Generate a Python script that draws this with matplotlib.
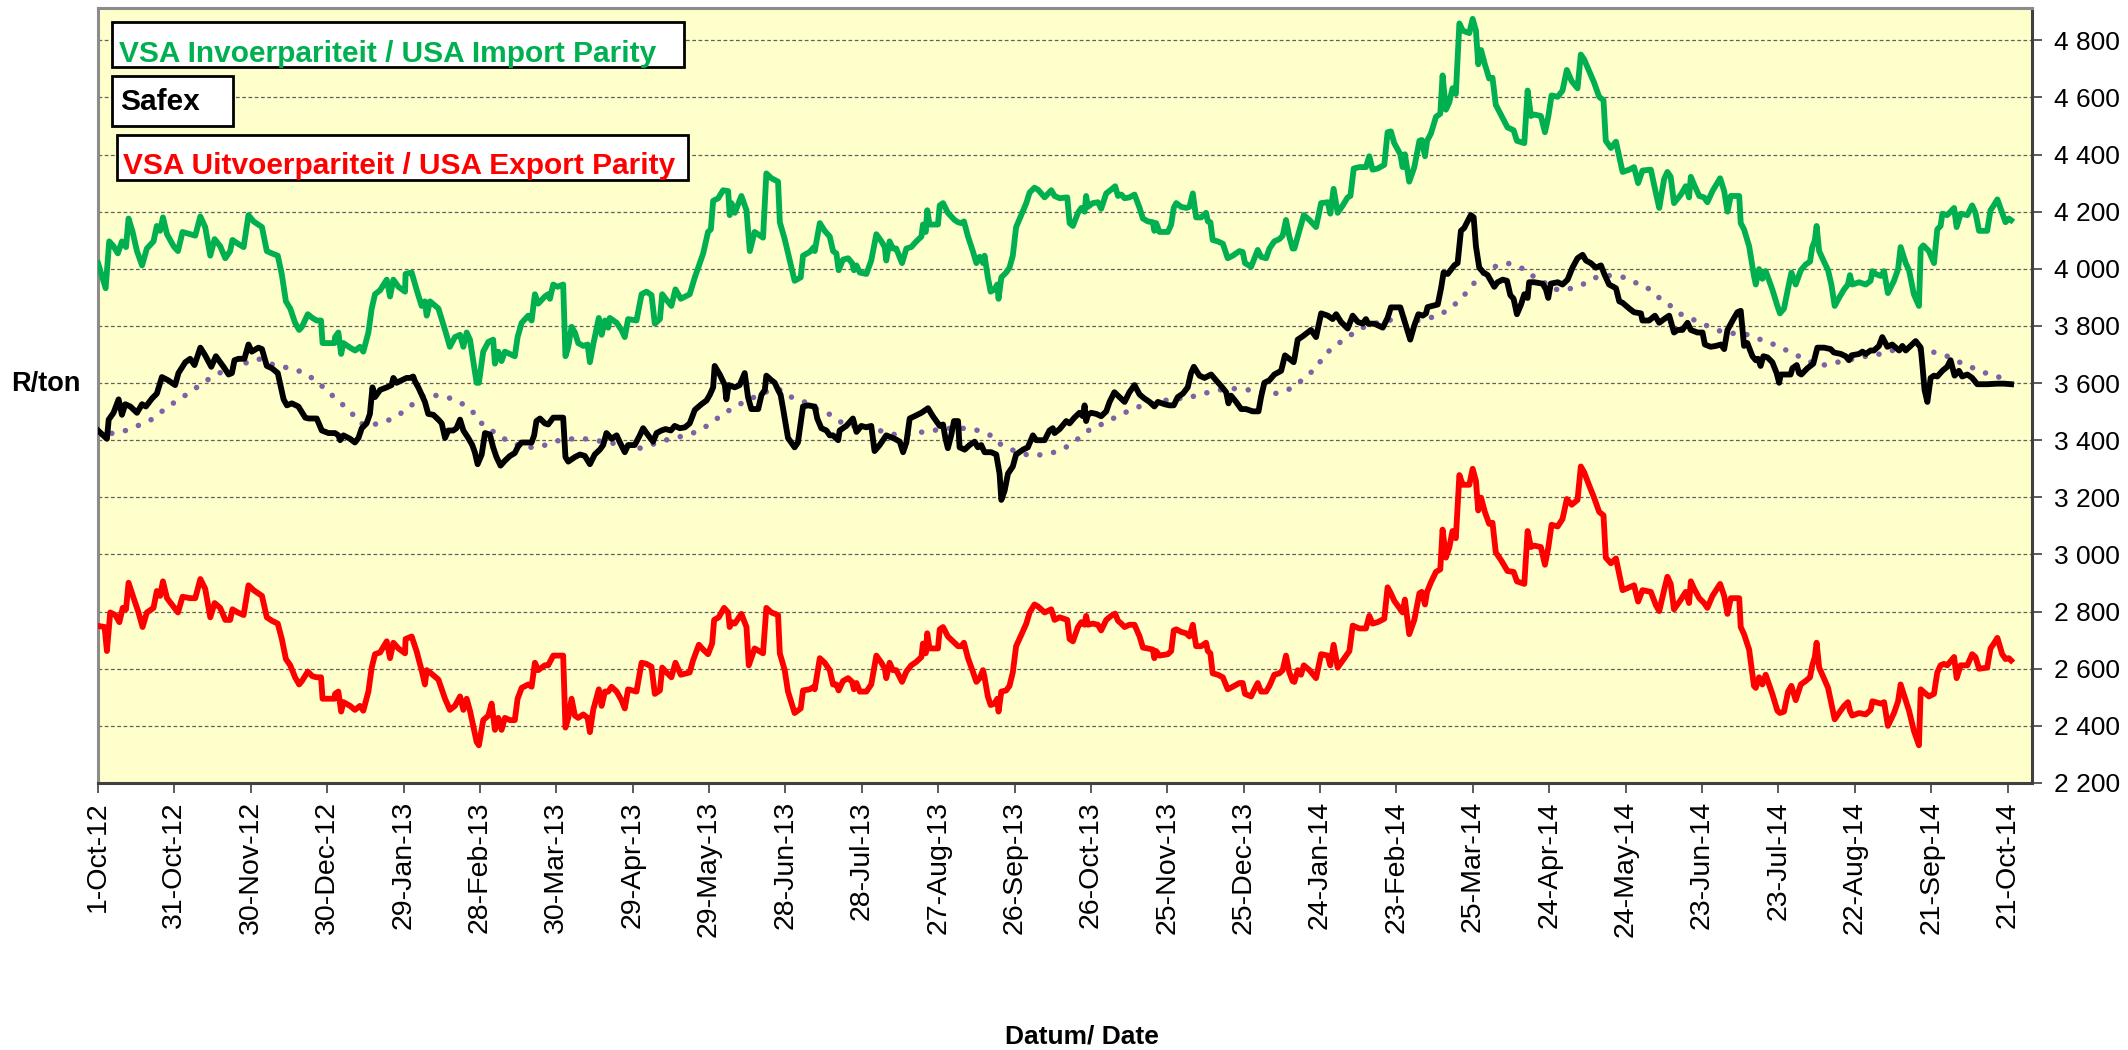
import matplotlib
matplotlib.use('Agg')
import matplotlib.pyplot as plt
import matplotlib.dates as mdates
from matplotlib.patches import Rectangle
from matplotlib.ticker import FuncFormatter, FixedLocator
from datetime import datetime
import numpy as np

plt.rcParams['font.family'] = ['Liberation Sans', 'DejaVu Sans']

START = datetime(2012, 10, 1)

x_tick_labels = ['1-Oct-12', '31-Oct-12', '30-Nov-12', '30-Dec-12', '29-Jan-13', '28-Feb-13',
                 '30-Mar-13', '29-Apr-13', '29-May-13', '28-Jun-13', '28-Jul-13', '27-Aug-13',
                 '26-Sep-13', '26-Oct-13', '25-Nov-13', '25-Dec-13', '24-Jan-14', '23-Feb-14',
                 '25-Mar-14', '24-Apr-14', '24-May-14', '23-Jun-14', '23-Jul-14', '22-Aug-14',
                 '21-Sep-14', '21-Oct-14']
y_ticks = [2200, 2400, 2600, 2800, 3000, 3200, 3400, 3600, 3800, 4000, 4200, 4400, 4600, 4800]

legend_labels = ['VSA Invoerpariteit / USA Import Parity', 'Safex',
                 'VSA Uitvoerpariteit / USA Export Parity']
y_label = 'R/ton'
x_label = 'Datum/ Date'

# (days after 1-Oct-2012, R/ton)
import_parity = [
    (0, 4020), (3, 3932), (4.4, 4096), (6.1, 4079), (7.8, 4054), (9.4, 4096), (11, 4076), (12, 4176),
    (13.6, 4129), (15.3, 4062), (17.3, 4012), (19.2, 4071), (21.8, 4096), (23.1, 4150), (24.4, 4133),
    (25.5, 4180), (27.1, 4121), (29.7, 4079), (31.4, 4062), (33.2, 4129), (36.2, 4121), (38.2, 4116),
    (40.2, 4183), (42.1, 4146), (44.1, 4046), (45.8, 4104), (48, 4079), (50, 4037), (51.9, 4062),
    (52.8, 4101), (54.9, 4088), (57.2, 4076), (59.1, 4188), (61.1, 4166), (64.4, 4146), (66.3, 4062),
    (68.3, 4054), (70.6, 4046), (72.2, 3980), (73.8, 3886), (75.5, 3861), (77.4, 3811), (79, 3786),
    (80.1, 3797), (82.4, 3841), (84.2, 3828), (85.9, 3819), (87.6, 3819), (88.2, 3740), (90.5, 3740),
    (92.9, 3740),
    (93.1, 3761), (94.4, 3777), (95.5, 3702), (96.4, 3740), (99, 3724), (101, 3714), (102.9, 3727),
    (104.2, 3710), (106.2, 3777), (107.5, 3861), (108.8, 3911), (110.8, 3925), (113.4, 3962),
    (114.7, 3903), (116, 3962), (118, 3937), (120.6, 3920), (120.8, 3982), (123.2, 3987), (125.1, 3928),
    (127.1, 3870), (128.4, 3886), (129.1, 3836), (130.4, 3886), (133.7, 3861), (136.3, 3786),
    (138.2, 3727), (140.2, 3761), (142.2, 3769), (143.5, 3727), (144.8, 3777), (146.1, 3752),
    (148.7, 3601), (149.6, 3601), (151.3, 3710), (153.3, 3744), (155.2, 3752), (155.9, 3668),
    (157.2, 3710), (158.5, 3677), (159.8, 3710), (161.8, 3702), (163.7, 3694), (164.8, 3761),
    (166.4, 3811), (169, 3836), (170.3, 3819), (171.6, 3911), (172.9, 3878), (175.5, 3903),
    (176.8, 3911), (177.5, 3895), (178.8, 3945), (180.5, 3937), (182.7, 3945), (183.6, 3694),
    (184.7, 3727), (186, 3797),
    (187.3, 3777), (188.6, 3740), (190.6, 3730), (192.3, 3735), (193.2, 3673), (194.5, 3735),
    (196.7, 3828), (197.8, 3769), (199.1, 3819), (200.4, 3794), (201, 3828), (203.7, 3811),
    (205.6, 3786), (206.9, 3761), (208.2, 3824), (211.5, 3819), (213.5, 3911), (215.4, 3920),
    (217.4, 3908), (218.7, 3808), (220.7, 3824), (221.6, 3911), (223.3, 3891), (225.2, 3870),
    (226.8, 3928), (228.9, 3895), (232.4, 3911), (234.4, 3970), (237.7, 4054), (239.6, 4129),
    (240.7, 4138), (241.6, 4238), (243.6, 4247), (245.5, 4275), (247.5, 4272), (248.1, 4188),
    (248.8, 4230), (250.1, 4196), (252.7, 4255), (254.7, 4205), (256, 4062), (257.9, 4129),
    (261.2, 4109), (262.5, 4334), (264.5, 4317), (267.1, 4305), (267.8, 4163), (269.7, 4104),
    (271.7, 4029), (273.6, 3958), (276, 3970), (276.9, 4046), (279.5, 4059), (281.2, 4076),
    (281.5, 4062), (283.5, 4160), (285.4, 4133), (287.4, 4113), (288.7, 4062), (290, 4054),
    (290.9, 3995), (292.6, 4032), (294.6, 4037), (296.2, 4020), (296.9, 3995), (297.9, 4012),
    (299.2, 3987), (301.8, 3982), (303.7, 4029), (305.7, 4121), (307.7, 4096), (309, 4076),
    (309.6, 4029), (310.9, 4096), (312.2, 4071), (313.5, 4071), (315.8, 4020), (317.5, 4071),
    (319.4, 4076), (321.4, 4096), (323.4, 4113), (324, 4155), (325.1, 4129), (325.7, 4205),
    (326.6, 4155), (329.9, 4155), (330.6, 4222), (331.9, 4230), (333.8, 4196), (336.4, 4171),
    (337.8, 4163), (339.1, 4160), (340.1, 4166), (341.7, 4113), (343.6, 4062), (345, 4020),
    (346.3, 4042), (347.6, 4020), (348.2, 4046), (349.5, 3970), (350.6, 3920), (352.1, 3928),
    (353.2, 3945), (353.7, 3895), (354.8, 3970), (356.7, 3987), (358, 4004), (359.3, 4046),
    (360.6, 4146), (362.6, 4188), (364.6, 4230), (365.9, 4267), (367.8, 4284), (369.2, 4277),
    (371.8, 4250), (374.4, 4275),
    (375.7, 4255), (377.7, 4247), (380.7, 4250), (381.6, 4160), (382.9, 4150), (384.9, 4196),
    (386.2, 4213), (387.5, 4200), (388.1, 4255), (388.8, 4217), (390.7, 4230), (392.7, 4233),
    (394, 4210), (396, 4264), (397.9, 4277), (399.5, 4289), (400.6, 4255), (401.9, 4260),
    (403.2, 4247), (405.1, 4250), (407.1, 4260), (409.1, 4213), (410.4, 4176), (412.3, 4166),
    (414.3, 4163), (414.9, 4133), (415.6, 4160), (416.9, 4129), (420.2, 4129), (421.5, 4155),
    (422.5, 4213), (423.5, 4230), (425.4, 4217), (427.4, 4213), (428.7, 4217), (430, 4264),
    (431.3, 4180), (433.3, 4180), (435.2, 4196), (435.9, 4166), (436.9, 4163), (437.8, 4101),
    (439.8, 4096), (441.8, 4088), (443.7, 4037), (445.7, 4046), (448.3, 4062), (449.6, 4059),
    (450.5, 4020), (452.9, 4007), (454.2, 4037), (455.5, 4066), (456.8, 4042), (458.8, 4037),
    (460.1, 4071), (462, 4096), (464, 4104), (465.3, 4116), (466.6, 4171), (467.9, 4113),
    (469.2, 4071),
    (469.9, 4071), (471.2, 4113), (473.6, 4188), (475.8, 4171), (478.4, 4146), (480.4, 4230),
    (483, 4233), (484, 4193), (485.3, 4280), (486.9, 4196), (488.9, 4222), (490.8, 4250),
    (491.9, 4255), (493.2, 4351), (495.4, 4356), (498, 4356), (499.3, 4394), (500.6, 4347),
    (502.6, 4351), (505.2, 4364), (506.5, 4478), (507.8, 4481), (509.1, 4440), (511.5, 4401),
    (512.4, 4356), (513.3, 4401), (515, 4305), (517, 4356), (519, 4448), (519.9, 4451),
    (521.2, 4394), (522, 4448), (523.5, 4473), (525.5, 4532), (527.2, 4543), (528.1, 4677),
    (529.4, 4557), (530.7, 4582), (532, 4632), (533.3, 4612), (534.7, 4859), (536, 4834),
    (538.6, 4825), (539.9, 4875), (541.2, 4834), (542.1, 4716), (543.2, 4766), (544.7, 4716),
    (546.4, 4666), (547.7, 4669), (549, 4574), (551, 4540), (553.6, 4495), (556, 4485),
    (557.3, 4448), (560.2, 4440), (561.5, 4624), (562.8, 4535),
    (564.1, 4540), (566.7, 4535), (568.3, 4478), (569.6, 4532), (570.9, 4607), (573.3, 4602),
    (575.2, 4624), (576.9, 4696), (578.8, 4657), (581.1, 4632), (582.4, 4750), (583.7, 4733),
    (585.7, 4691), (587.6, 4652), (589.6, 4602), (591.3, 4590), (592.2, 4448), (594.2, 4423),
    (596.2, 4445), (598.8, 4339), (601.4, 4347), (603.3, 4356), (604.9, 4300), (606.6, 4344),
    (609.9, 4347), (611.9, 4264), (613.2, 4213), (615.1, 4314), (616.4, 4339), (617.7, 4322),
    (619, 4230), (621.7, 4260), (623.6, 4289), (624.9, 4250), (625.6, 4322), (626.9, 4294),
    (628.9, 4255), (630.8, 4250), (632.1, 4233), (634.1, 4272), (637.1, 4317), (638.7, 4272),
    (640, 4200), (641.3, 4255), (644.6, 4255), (645.2, 4160), (646.5, 4138), (648.5, 4079),
    (650.4, 3975), (651.1, 3945), (652.4, 3999), (653.7, 3965), (655, 3992), (657.6, 3928),
    (659.6, 3870), (660.6, 3844),
    (662.2, 3861), (663.8, 3932), (665.1, 3987), (666.8, 3945), (668.8, 3995), (670.7, 4015),
    (672.4, 4025), (673.3, 4076), (674.3, 4099), (675, 4150), (676, 4062), (677.7, 4029),
    (679.5, 3995), (680.8, 3945), (682.1, 3870), (683.8, 3898), (685.8, 3928), (687.3, 3945),
    (688.1, 3978), (689, 3945), (691.7, 3953), (694.3, 3945), (696.2, 3958), (696.9, 3992),
    (698.2, 3982), (700.2, 3975), (701.5, 3992), (703, 3915), (705.4, 3958), (707, 3999),
    (708, 4076), (710, 4020), (711.3, 3995), (713.2, 3911), (715.2, 3870), (715.9, 4071),
    (716.9, 4082), (719.1, 4062), (721.1, 4020), (722.4, 4138), (723.7, 4150), (724.4, 4193),
    (726.3, 4188), (729, 4213), (730, 4146), (731.6, 4193), (734.2, 4188), (736.1, 4222),
    (737.4, 4196), (738.8, 4133), (742, 4133), (743.3, 4205), (744.6, 4222), (746, 4243),
    (747.9, 4196), (749.2, 4163), (750.5, 4176), (751.4, 4170),
]

safex = [
    (0, 3434), (3.5, 3405), (4.2, 3472), (6.1, 3496), (8.1, 3543), (9.4, 3489), (10.7, 3526),
    (12.7, 3518), (15.3, 3496), (17.3, 3526), (18.8, 3518), (21.2, 3546), (23.1, 3563), (25.1, 3621),
    (27.5, 3610), (30.3, 3593), (31.6, 3635), (34.3, 3673), (36.2, 3685), (37.9, 3663), (40.2, 3724),
    (42.1, 3697), (44.5, 3657), (46.3, 3694), (49.3, 3657), (51.3, 3630), (52.6, 3635), (53.6, 3680),
    (55.2, 3685), (57.5, 3685), (59.1, 3735), (60.4, 3710), (63, 3724), (64.4, 3719), (66.3, 3660),
    (68.3, 3652), (70.6, 3635), (72.9, 3543), (74.2, 3522), (76.1, 3529), (78.7, 3518), (81.4, 3479),
    (82.7, 3476), (85.9, 3476), (87.9, 3434), (90.5, 3425),
    (93.1, 3425), (94.4, 3417), (95.1, 3400), (96.4, 3417), (99, 3405), (100.9, 3392), (102.3, 3408),
    (103.6, 3442), (105.5, 3459), (106.8, 3492), (107.8, 3585), (108.8, 3551), (110.8, 3576),
    (113.4, 3585), (115.3, 3593), (116, 3618), (117.3, 3601), (119.3, 3610), (121.2, 3618),
    (122.5, 3618), (123.8, 3623), (124.5, 3606), (125.8, 3585), (127.1, 3560), (128.4, 3534),
    (129.7, 3492), (131.7, 3489), (133.7, 3472), (135, 3459), (136.3, 3408), (137.6, 3434),
    (139.5, 3434), (140.8, 3442), (142.2, 3472), (143.5, 3434), (145.4, 3408), (147, 3383),
    (148, 3358), (149.1, 3316), (150.7, 3350), (152, 3425), (153.9, 3420), (155.2, 3375),
    (156.5, 3341), (158.1, 3311), (159.8, 3328), (161.8, 3345), (163.7, 3355), (165, 3378),
    (166.4, 3392), (169, 3392), (170.3, 3392), (171.3, 3417), (172.2, 3467), (173.6, 3476),
    (175.5, 3459), (176.8, 3455), (178.8, 3479), (182.7, 3479), (183.6, 3341), (184.7, 3325),
    (186, 3333),
    (187.3, 3341), (189.3, 3350), (191.2, 3345), (193.2, 3316), (195.1, 3350), (197.1, 3367),
    (198.4, 3383), (199.7, 3425), (201.7, 3405), (203.7, 3417), (205, 3392), (206.9, 3358),
    (208.2, 3383), (210.8, 3383), (212.8, 3417), (214.1, 3442), (216.1, 3417), (218, 3395),
    (219.4, 3425), (221.3, 3434), (222.9, 3439), (225, 3434), (226.5, 3450), (228.5, 3442),
    (230.5, 3445), (232.4, 3459), (234.4, 3506), (237, 3526), (239, 3539), (240.3, 3559),
    (241.6, 3585), (242.2, 3660), (244.2, 3630), (246.2, 3593), (246.8, 3543), (247.7, 3593),
    (250.1, 3585), (252, 3593), (254, 3635), (255.3, 3551), (256.6, 3509), (259.3, 3509),
    (260.6, 3559), (261.9, 3576), (262.5, 3626), (264.5, 3610), (265.8, 3601), (267.1, 3576),
    (268.1, 3559), (269.1, 3509), (271, 3408), (273.6, 3375), (274.9, 3392), (276.9, 3518),
    (278.9, 3522), (281.2, 3518),
    (281.5, 3518), (282.5, 3476), (284.1, 3442), (286.1, 3434), (287.4, 3417), (288.7, 3417),
    (290.7, 3400), (291.3, 3434), (293.9, 3450), (296.5, 3476), (297.9, 3429), (299.8, 3450),
    (301.8, 3445), (303.7, 3450), (305, 3362), (307, 3383), (309.6, 3417), (312.9, 3405),
    (314.9, 3395), (316.2, 3358), (317.5, 3392), (318.8, 3476), (320.7, 3484), (323.4, 3496),
    (326, 3512), (327.9, 3484), (330.6, 3450), (331.9, 3455), (332.8, 3408), (333.8, 3372),
    (335.1, 3417), (336.2, 3467), (337.8, 3467), (338.4, 3375), (340.4, 3367), (342.3, 3383),
    (344.3, 3395), (345.6, 3375), (346.9, 3383), (348.2, 3358), (350.8, 3358), (352.8, 3350),
    (354.1, 3283), (354.8, 3191), (356.1, 3224), (357.4, 3283), (359.3, 3308), (360.6, 3350),
    (363.3, 3367), (365.2, 3375), (367.2, 3417), (368.5, 3400), (371.8, 3400), (373.7, 3434),
    (375, 3442),
    (375.7, 3425), (377.7, 3439), (380.3, 3467), (381.6, 3459), (383.5, 3479), (385.5, 3496),
    (386.8, 3484), (387.5, 3522), (388.1, 3467), (388.8, 3489), (390.1, 3496), (392.1, 3492),
    (394, 3484), (396, 3501), (397.3, 3534), (399.2, 3568), (401.2, 3551), (403.2, 3534),
    (405.1, 3568), (407.1, 3593), (409.1, 3560), (411, 3546), (413, 3534), (414.9, 3518),
    (416.3, 3534), (418.9, 3526), (420.8, 3522), (422.5, 3522), (424.1, 3551), (426.1, 3563),
    (428, 3585), (429.3, 3635), (430.4, 3657), (432.6, 3626), (434.6, 3618), (437.2, 3630),
    (439.1, 3610), (441.1, 3590), (443.1, 3568), (444, 3529), (445, 3556), (447, 3534),
    (449, 3509), (450.9, 3509), (453.5, 3501), (455.8, 3501), (456.8, 3551), (458.1, 3601),
    (460.1, 3610), (462, 3630), (464.7, 3643), (466.2, 3697), (467.9, 3685), (469.6, 3673),
    (469.9, 3685), (471.2, 3752), (473.2, 3764), (476.4, 3786), (478.4, 3761), (480.4, 3844),
    (483, 3836), (484.9, 3824), (486.3, 3841), (488.2, 3814), (490.8, 3791), (492.8, 3836),
    (494.8, 3814), (496.7, 3808), (498, 3824), (498.9, 3808), (501.3, 3808), (504.6, 3794),
    (506.5, 3828), (507.8, 3865), (511.5, 3865), (513.1, 3819), (515.4, 3752), (517, 3802),
    (518.6, 3841), (520.3, 3836), (521.6, 3844), (522.2, 3866), (526.2, 3875), (527.5, 3932),
    (528.5, 3987), (530.1, 3982), (532.7, 4012), (534, 4020), (535.3, 4133), (536.6, 4143),
    (537.9, 4166), (539.2, 4188), (540.3, 4180), (541.2, 4079), (542.5, 4004), (544.2, 3987),
    (545.8, 3978), (548.4, 3937), (549.7, 3953), (551.7, 3962), (553.4, 3958), (554.7, 3908),
    (556, 3895), (557.3, 3841), (558.9, 3875), (560.2, 3911), (561.5, 3898), (562.1, 3953),
    (564.1, 3953), (567.4, 3948), (568.7, 3928), (569.6, 3898), (570.6, 3948), (573.3, 3953),
    (575.2, 3945), (577.2, 3962), (579.1, 4004), (581.1, 4037), (583.1, 4049), (584.4, 4029),
    (586.3, 4020), (588.3, 4004), (590.3, 4012), (591.6, 3982), (593.5, 3945), (596.2, 3932),
    (597.5, 3886), (598.8, 3881), (601.4, 3861), (603.3, 3848), (606, 3844), (606.6, 3819),
    (609.2, 3819), (611.5, 3836), (613.2, 3811), (615.1, 3824), (617.1, 3836), (619, 3777),
    (620.4, 3786), (622.3, 3786), (624.3, 3811), (625.6, 3786), (628.2, 3777), (630.2, 3777),
    (631.1, 3735), (633.4, 3727), (635.4, 3730), (637.4, 3735), (638.7, 3719), (640, 3786),
    (642, 3819), (643.9, 3848), (645.2, 3853), (646.5, 3730), (647.8, 3740), (649.8, 3694),
    (651.1, 3680), (652, 3685), (653, 3660), (654.1, 3694), (655.7, 3690), (657.6, 3673),
    (659.3, 3635), (660.3, 3601),
    (660.9, 3630), (663.5, 3630), (664.8, 3630), (665.5, 3652), (667.2, 3663), (668.1, 3635),
    (669, 3630), (671.4, 3652), (673.7, 3668), (675.3, 3724), (677.9, 3724), (680.5, 3719),
    (681.8, 3707), (684.5, 3702), (686.4, 3694), (687.7, 3680), (688.7, 3697), (691.7, 3702),
    (693, 3710), (694.3, 3702), (696.2, 3714), (697.5, 3714), (699.5, 3730), (700.8, 3761),
    (702.8, 3727), (704.7, 3735), (707.4, 3714), (708.7, 3730), (710, 3714), (711.9, 3730),
    (713.9, 3747), (715.9, 3724), (716.5, 3668), (717.4, 3576), (718.5, 3534), (719.8, 3618),
    (721.1, 3626), (722.4, 3623), (724.4, 3643), (726.3, 3657), (727.6, 3680), (729.2, 3626),
    (730.9, 3643), (732.2, 3623), (734.2, 3630), (736.1, 3618), (738.1, 3596), (742, 3596),
    (746, 3598), (748.6, 3598), (751.4, 3596),
]

safex_trend = [
    (0, 3417), (9.4, 3429), (14, 3445), (17.9, 3459), (21.8, 3476), (25.1, 3501), (28.4, 3522),
    (31.6, 3543), (35.6, 3564), (38.8, 3585), (42.8, 3610), (46, 3626), (49.3, 3643), (52.6, 3652),
    (54.9, 3660), (58.5, 3672), (63, 3685), (67, 3668), (72.2, 3660), (76.1, 3647), (80.1, 3640),
    (84, 3618), (87.2, 3598), (89.9, 3568),
    (93.1, 3551), (96.4, 3522), (99.6, 3496), (102.3, 3462), (106.2, 3450), (110.1, 3459),
    (114.7, 3472), (118.6, 3492), (121.9, 3512), (125.1, 3539), (129.1, 3563), (133, 3556),
    (136.9, 3551), (140.9, 3539), (144.8, 3518), (148, 3492), (150.7, 3459), (153.9, 3439),
    (157.2, 3417), (161.1, 3397), (165, 3383), (169.6, 3375), (174.2, 3378), (178.1, 3392),
    (182.7, 3403),
    (187.3, 3405), (191.2, 3405), (195.8, 3398), (200.4, 3395), (204.3, 3383), (208.2, 3372),
    (212.8, 3372), (217.1, 3383), (221.3, 3397), (225.2, 3405), (229.8, 3415), (233.7, 3425),
    (237.7, 3442), (241.6, 3464), (244.9, 3489), (248.8, 3509), (252.7, 3529), (256.6, 3546),
    (260.6, 3563), (264.5, 3576), (268.4, 3576), (272.3, 3551), (276.3, 3539), (280.2, 3522),
    (283.5, 3501), (288, 3489), (292, 3462), (295.9, 3450), (299.8, 3447), (303.7, 3449),
    (308.3, 3429), (312.9, 3420), (316.8, 3417), (321.4, 3425), (326, 3432), (330.6, 3437),
    (335.1, 3442), (339.1, 3442), (343.6, 3439), (347.6, 3429), (351.5, 3413), (354.8, 3383),
    (358.7, 3367), (362.6, 3355), (366.5, 3345), (371.1, 3350),
    (375.7, 3358), (379.6, 3372), (382.9, 3392), (386.8, 3417), (390.1, 3442), (394, 3455),
    (397.9, 3472), (401.9, 3492), (406.1, 3506), (410, 3522), (414.3, 3529), (418.9, 3539),
    (423.5, 3546), (427.8, 3546), (432, 3559), (436.5, 3568), (440.5, 3576), (445, 3581),
    (449.6, 3579), (454.2, 3573), (458.8, 3568), (462.7, 3564), (467.3, 3576),
    (470.6, 3593), (473.8, 3618), (477.7, 3647), (482.3, 3702), (485.6, 3730), (489.5, 3752),
    (493.4, 3777), (496.7, 3794), (500.6, 3808), (504.6, 3814), (509.1, 3824), (513.7, 3824),
    (518.3, 3819), (522.9, 3828), (526.8, 3836), (530.7, 3861), (534, 3883), (537.3, 3915),
    (539.9, 3942), (541.9, 3970), (545.8, 3995), (549.7, 4012), (553.6, 4020), (557.6, 4007),
    (561.5, 3995),
    (564.1, 3970), (567.4, 3958), (570.6, 3932), (574.6, 3925), (579.1, 3932), (583.1, 3945),
    (587, 3965), (590.9, 3978), (595.5, 3975), (599.4, 3970), (603.3, 3953), (607.3, 3942),
    (610.5, 3920), (614.1, 3891), (617.7, 3870), (621, 3844), (624.9, 3828), (628.9, 3814),
    (632.8, 3797), (637.4, 3781), (641.3, 3774), (645.9, 3774), (649.8, 3764), (654.4, 3747),
    (658.3, 3735), (662.2, 3719), (666.1, 3702), (670.1, 3685), (674, 3668), (678.6, 3663),
    (683.2, 3673), (687.1, 3680), (691.7, 3689), (696.2, 3697), (700.2, 3702), (704.7, 3714),
    (708.7, 3719), (713.2, 3719), (717.8, 3715), (722.4, 3705), (726.3, 3694), (730.3, 3677),
    (734.2, 3660), (738.4, 3647), (742.7, 3630), (746.6, 3621), (751.4, 3614),
]

export_days = [
    0, 2.6, 3.5, 4.8, 6.8, 8.4, 9.7, 11, 12, 14, 15.9, 17.5, 19.2, 21.8, 23.1, 24.4, 25.5, 27.1, 29,
    31.4, 33.2, 36.2, 38.2, 40.2, 42.1, 44.1, 45.8, 48, 50, 51.9, 52.8, 54.9, 57.2, 59.1, 61.1, 64.4,
    66.3, 68.3, 70.6, 72.2, 73.8, 75.5, 77.4, 79, 80.1, 82.4, 84.2, 85.9, 87.6, 88.2, 90.5, 92.9,
    93.1, 94.4, 95.5, 96.4, 99, 100.9, 102.9, 104.2, 106.2, 107.5, 108.8, 110.8, 113.4, 114.7, 116,
    118, 120.6, 120.8, 123.2, 125.1, 127.1, 128.4, 129.1, 130.4, 133.7, 136.3, 138.2, 140.2, 142.2,
    143.5, 144.8, 146.1, 148.7, 149.6, 151.3, 153.3, 154.6, 155.9, 157.2, 158.5, 159.8, 161.8, 163.7,
    164.8, 166.4, 169, 170.3, 171.6, 172.9, 175.5, 176.8, 178.8, 182.7, 183.6, 184.7, 186,
    187.3, 188.6, 190.6, 192.3, 193.2, 194.5, 196.7, 197.8, 199.1, 200.4, 201.7, 203.7, 205.6,
    206.9, 208.2, 211.5, 213.5, 215.4, 217.4, 218.7, 220.7, 221.6, 223.3, 225.2, 226.8, 228.9,
    232.4, 233.7, 236, 237.7, 239.6, 241.2, 242, 243.8, 245.9, 247.5, 248.1, 249, 250.1, 252.7,
    254.7, 255.6, 257.9, 261.2, 262.5, 264.5, 267.1, 267.8, 269.7, 271, 273.6, 276, 276.9, 279.5,
    281.2,
    281.5, 283.5, 285.4, 287.4, 288.7, 290, 290.9, 292.6, 294.6, 296.2, 296.9, 297.9, 299.2, 301.8,
    303.7, 305.7, 307.7, 309, 309.6, 310.9, 312.2, 313.5, 315.8, 317.5, 319.4, 321.4, 323.4, 324,
    325.1, 325.7, 326.6, 329.9, 330.6, 331.9, 333.8, 336.4, 337.8, 339.1, 340.1, 341.7, 343.6, 345,
    346.3, 347.6, 348.2, 349.5, 350.6, 352.1, 353.2, 353.7, 354.8, 356.7, 358, 359.3, 360.6, 362.6,
    364.6, 365.9, 367.8, 369.2, 371.8, 374.4,
    375.7, 377.7, 380.7, 381.6, 382.9, 384.9, 386.2, 387.5, 388.1, 388.8, 390.7, 392.7, 394, 396,
    397.9, 399.5, 400.6, 401.9, 403.2, 405.1, 407.1, 409.1, 410.4, 412.3, 414.3, 414.9, 415.6,
    416.9, 420.2, 421.5, 422.5, 423.5, 425.4, 427.4, 428.7, 430, 431.3, 433.3, 435.2, 435.9, 436.9,
    437.8, 439.8, 441.8, 443.7, 445.7, 448.3, 449.6, 450.5, 452.9, 454.2, 455.5, 456.8, 458.8,
    460.1, 462, 464, 465.3, 466.6, 467.9, 469.2,
    469.9, 471.2, 472.5, 473.6, 475.8, 478.4, 480.4, 483, 484, 485.3, 486.9, 488.9, 491.5, 492.8,
    495.4, 498, 499.3, 500.6, 502.6, 505.2, 506.5, 507.8, 509.1, 511.5, 512.4, 513.3, 515, 517, 519,
    519.9, 521.2, 522, 523.5, 525.5, 527.2, 528.1, 529.4, 530.7, 532, 533.3, 534.7, 536, 538.6,
    539.9, 541.2, 542.1, 543.2, 544.7, 546.4, 547.7, 549, 551, 553.6, 556, 557.3, 560.2, 561.5, 562.8,
    564.1, 566.7, 568.3, 569.6, 570.9, 573.3, 575.2, 576.9, 578.8, 581.1, 582.4, 583.7, 585.7,
    587.6, 589.6, 591.3, 592.2, 594.2, 596.2, 598.8, 601.4, 603.3, 604.9, 606.6, 609.9, 611.9,
    613.2, 615.1, 616.4, 617.7, 619, 621.7, 623.6, 624.9, 625.6, 626.9, 628.9, 630.8, 632.1, 634.1,
    637.1, 638.7, 640, 641.3, 644.6, 645.2, 646.5, 648.5, 650.4, 651.1, 652.4, 653.7, 655, 657.6,
    659.6, 660.6,
    662.2, 663.8, 665.1, 666.8, 668.8, 670.7, 672.4, 673.3, 674.3, 675, 676, 677.7, 679.5, 680.8,
    682.1, 683.8, 685.8, 687.3, 688.1, 689, 691.7, 694.3, 696.2, 696.9, 698.2, 700.2, 701.5, 703,
    705.4, 707, 708, 710, 711.3, 713.2, 715.2, 715.9, 716.9, 719.1, 721.1, 722.4, 723.7, 725, 726.3,
    729, 730, 731.6, 734.2, 736.1, 737.4, 738.8, 742, 743.3, 744.6, 746, 747.9, 749.2, 750.5, 751.4,
]
export_vals = [
    2750, 2746, 2662, 2797, 2788, 2763, 2813, 2808, 2901, 2847, 2797, 2746, 2797, 2813, 2872, 2855,
    2906, 2847, 2825, 2797, 2852, 2847, 2847, 2914, 2880, 2780, 2830, 2813, 2771, 2771, 2808, 2797,
    2788, 2892, 2875, 2855, 2780, 2768, 2758, 2704, 2634, 2612, 2570, 2545, 2557, 2590, 2574, 2570,
    2570, 2495, 2495, 2495,
    2512, 2520, 2450, 2483, 2470, 2456, 2470, 2453, 2520, 2604, 2651, 2657, 2696, 2637, 2691, 2671,
    2654, 2704, 2713, 2662, 2595, 2545, 2595, 2587, 2562, 2495, 2456, 2470, 2503, 2456, 2495, 2453,
    2344, 2332, 2420, 2436, 2478, 2386, 2428, 2386, 2428, 2420, 2420, 2495, 2533, 2545, 2537, 2621,
    2595, 2612, 2612, 2646, 2646, 2394, 2428, 2495,
    2436, 2428, 2440, 2428, 2378, 2456, 2528, 2470, 2520, 2520, 2537, 2520, 2490, 2461, 2528, 2520,
    2621, 2617, 2607, 2512, 2524, 2604, 2587, 2570, 2621, 2579, 2587, 2629, 2684, 2667, 2651, 2688,
    2771, 2780, 2813, 2797, 2746, 2763, 2758, 2792, 2746, 2612, 2671, 2654, 2813, 2797, 2788, 2654,
    2595, 2520, 2445, 2461, 2524, 2528, 2537,
    2528, 2637, 2621, 2595, 2545, 2545, 2524, 2557, 2567, 2554, 2528, 2550, 2520, 2520, 2545, 2646,
    2621, 2600, 2567, 2621, 2595, 2595, 2554, 2590, 2612, 2624, 2641, 2688, 2654, 2724, 2671, 2671,
    2738, 2746, 2713, 2691, 2679, 2679, 2691, 2637, 2590, 2554, 2567, 2595, 2570, 2503, 2473, 2478,
    2495, 2450, 2520, 2524, 2540, 2587, 2679, 2718, 2758, 2797, 2825, 2818, 2797, 2808,
    2771, 2780, 2771, 2704, 2696, 2746, 2763, 2754, 2785, 2754, 2758, 2754, 2734, 2771, 2785, 2793,
    2768, 2758, 2746, 2754, 2754, 2713, 2674, 2671, 2667, 2637, 2662, 2646, 2651, 2662, 2734, 2738,
    2729, 2724, 2713, 2754, 2679, 2679, 2691, 2662, 2654, 2584, 2579, 2570, 2528, 2537, 2550, 2550,
    2512, 2503, 2528, 2550, 2520, 2520, 2540, 2579, 2584, 2595, 2646, 2587, 2557,
    2554, 2595, 2579, 2612, 2595, 2567, 2651, 2646, 2612, 2684, 2604, 2629, 2662, 2751, 2741, 2741,
    2785, 2758, 2763, 2775, 2885, 2864, 2838, 2808, 2797, 2842, 2721, 2771, 2864, 2869, 2825, 2869,
    2902, 2939, 2948, 3087, 2989, 3023, 3082, 3057, 3278, 3244, 3244, 3300, 3258, 3154, 3199, 3149,
    3107, 3111, 3007, 2981, 2942, 2939, 2906, 2897, 3082, 3026,
    3031, 3026, 2964, 3023, 3104, 3098, 3124, 3194, 3174, 3191, 3308, 3288, 3241, 3199, 3149, 3137,
    2989, 2969, 2986, 2875, 2885, 2892, 2835, 2875, 2869, 2822, 2802, 2875, 2922, 2897, 2808, 2842,
    2869, 2830, 2906, 2880, 2847, 2830, 2813, 2855, 2897, 2855, 2792, 2847, 2847, 2746, 2721, 2667,
    2540, 2533, 2570, 2545, 2579, 2512, 2453, 2445,
    2450, 2520, 2540, 2490, 2545, 2557, 2570, 2612, 2641, 2691, 2604, 2570, 2533, 2478, 2423, 2445,
    2470, 2483, 2453, 2436, 2445, 2440, 2456, 2486, 2483, 2478, 2483, 2400, 2445, 2486, 2545, 2490,
    2453, 2383, 2332, 2528, 2520, 2503, 2512, 2587, 2612, 2617, 2612, 2641, 2567, 2612, 2612, 2651,
    2641, 2600, 2604, 2671, 2688, 2708, 2651, 2634, 2637, 2629,
]

W, H = 2128, 1050
AX_L, AX_R, AX_T, AX_B = 98, 2032, 8, 783
fig = plt.figure(figsize=(W / 100, H / 100), dpi=100)
ax = fig.add_axes([AX_L / W, 1 - AX_B / H, (AX_R - AX_L) / W, (AX_B - AX_T) / H])
ax.set_facecolor('#FFFFCC')

base = mdates.date2num(START)


def to_x(days):
    return base + np.asarray(days, dtype=float)


def split(pairs):
    d, v = zip(*pairs)
    return to_x(d), np.asarray(v, dtype=float)


ax.set_ylim(2200, 4913)
ax.set_xlim(base, base + 759.6)

for yv in y_ticks[1:]:
    ax.axhline(yv, color='#606060', lw=0.9, ls=(0, (3, 2)), zorder=1)

LW = 4.2
xt, yt = split(safex_trend)
ax.plot(xt, yt, color='#7E62A6', lw=4.0, ls=(0, (0.01, 2.5)), dash_capstyle='round', zorder=2)
xs, ys = split(safex)
ax.plot(xs, ys, color='black', lw=LW, zorder=3, solid_joinstyle='round')
xg, yg = split(import_parity)
ax.plot(xg, yg, color='#00B050', lw=LW, zorder=3, solid_joinstyle='round')
ax.plot(to_x(export_days), export_vals, color='#FF0000', lw=LW, zorder=3, solid_joinstyle='round')

# axes styling
ax.yaxis.tick_right()
ax.set_yticks(y_ticks)
ax.yaxis.set_major_formatter(FuncFormatter(lambda v, p: f"{int(v):,}".replace(',', ' ')))
tick_pos = [mdates.date2num(datetime.strptime(s, '%d-%b-%y')) for s in x_tick_labels]
ax.xaxis.set_major_locator(FixedLocator(tick_pos))
ax.set_xticklabels(x_tick_labels, rotation=90)
ax.tick_params(axis='y', which='both', right=True, left=False, direction='out', length=7,
               width=1.2, color='#404040', labelsize=19, pad=9)
ax.tick_params(axis='x', direction='out', length=7, width=1.2, color='#404040',
               labelsize=20.5, pad=6)
for s in ['left', 'top']:
    ax.spines[s].set_color('#8C8C8C')
    ax.spines[s].set_linewidth(2.2)
for s in ['right', 'bottom']:
    ax.spines[s].set_color('#404040')
    ax.spines[s].set_linewidth(2.2)

fig.text(11 / W, 1 - 384 / H, y_label, fontsize=19.5, fontweight='bold', ha='left', va='center')
fig.text(1082 / W, 1 - 1037 / H, x_label, fontsize=19, fontweight='bold', ha='center',
         va='center')

# legend boxes
boxes = [
    ((112, 22, 684, 67), (119, 62), '#00B050'),
    ((112, 76, 233, 126), (120, 110), 'black'),
    ((117, 135, 688, 180), (123, 174), '#FF0000'),
]
for (x0, y0, x1, y1), (tx, ty), col in boxes:
    fig.add_artist(Rectangle((x0 / W, 1 - y1 / H), (x1 - x0) / W, (y1 - y0) / H,
                             transform=fig.transFigure, facecolor='white', edgecolor='black',
                             lw=2, zorder=5))
for ((x0, y0, x1, y1), (tx, ty), col), lab in zip(boxes, legend_labels):
    fig.text(tx / W, 1 - ty / H, lab, color=col, fontsize=21.5, fontweight='bold',
             ha='left', va='baseline', zorder=6)

fig.savefig('out.png', dpi=100, facecolor='white')
